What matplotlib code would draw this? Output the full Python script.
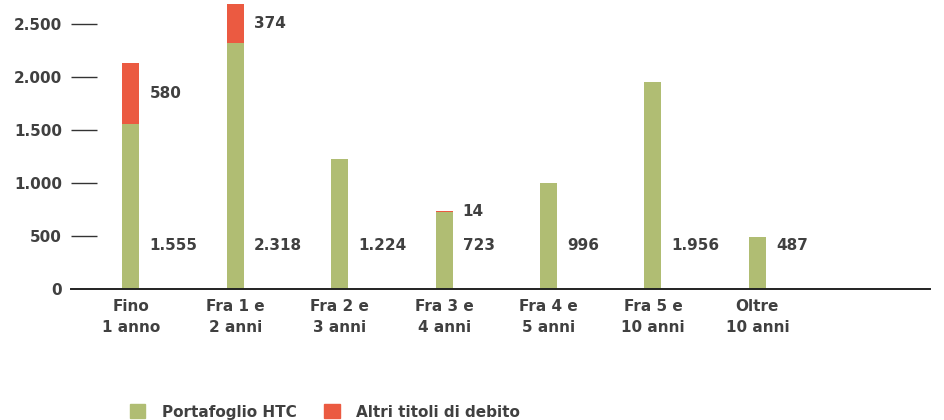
import matplotlib

matplotlib.use("Agg")
import matplotlib.pyplot as plt
from matplotlib.patches import Patch

# data
CATEGORIES = [
    "Fino\n1 anno",
    "Fra 1 e\n2 anni",
    "Fra 2 e\n3 anni",
    "Fra 3 e\n4 anni",
    "Fra 4 e\n5 anni",
    "Fra 5 e\n10 anni",
    "Oltre\n10 anni",
]
HTC = [1555, 2318, 1224, 723, 996, 1956, 487]
ALTRI = [580, 374, 0, 14, 0, 0, 0]
Y_TICKS = [0, 500, 1000, 1500, 2000, 2500]
SERIES_NAMES = ["Portafoglio HTC", "Altri titoli di debito"]

GREEN = "#B0BD73"
RED = "#EB5A41"
TEXT = "#404040"
FONT = "DejaVu Sans"
FS = 11.0

W, H, DPI = 945, 420, 100
# pixel geometry of the reference
AX_L, AX_R, AX_B, AX_T = 71, 930, 289, 0
X0, STEP = 131, 104.4
BAR_PX = 17


def fmt(v):
    return f"{v:,}".replace(",", ".")


plt.rcParams["font.family"] = [FONT]
plt.rcParams["font.weight"] = "bold"

fig = plt.figure(figsize=(W / DPI, H / DPI), dpi=DPI)
ax = fig.add_axes([AX_L / W, (H - AX_B) / H, (AX_R - AX_L) / W, (AX_B - AX_T) / H])

xs = list(range(len(CATEGORIES)))
bw = BAR_PX / STEP
ax.bar(xs, HTC, width=bw, color=GREEN, label=SERIES_NAMES[0], zorder=2)
ax.bar(xs, ALTRI, width=bw, bottom=HTC, color=RED, label=SERIES_NAMES[1], zorder=2)

ax.set_xlim((AX_L - X0) / STEP, (AX_R - X0) / STEP)
ax.set_ylim(0, 2726)

# value labels: green ones at a fixed height, red ones centred on segment
for x, g, r in zip(xs, HTC, ALTRI):
    lx = x + bw / 2 + 10 / STEP
    ax.text(lx, 415, fmt(g), ha="left", va="center", fontsize=FS, color=TEXT)
    if r:
        ax.text(lx, g + r / 2, fmt(r), ha="left", va="center", fontsize=FS, color=TEXT)

# short tick dashes left of the plot
tick_end = (97 - X0) / STEP
ax.hlines(Y_TICKS[1:], (AX_L - X0) / STEP, tick_end, color="#333333", lw=1.0,
          clip_on=False)

ax.set_yticks(Y_TICKS)
ax.set_yticklabels([fmt(v) for v in Y_TICKS])
ax.set_xticks(xs)
ax.set_xticklabels(CATEGORIES, linespacing=1.5)
ax.tick_params(axis="y", length=0, pad=6.5, labelsize=FS, labelcolor=TEXT)
ax.tick_params(axis="x", length=0, pad=7, labelsize=FS, labelcolor=TEXT)

for side in ("top", "right", "left"):
    ax.spines[side].set_visible(False)
ax.spines["bottom"].set_color("#222222")
ax.spines["bottom"].set_linewidth(1.4)

handles = [Patch(color=GREEN), Patch(color=RED)]
fig.legend(
    handles,
    SERIES_NAMES,
    loc="center left",
    bbox_to_anchor=(130 / W, (H - 412) / H),
    ncol=2,
    frameon=False,
    fontsize=FS,
    labelcolor=TEXT,
    borderpad=0,
    borderaxespad=0,
    handlelength=1.0,
    handleheight=1.0,
    handletextpad=1.1,
    columnspacing=1.8,
)

fig.savefig("out.png", dpi=DPI)
